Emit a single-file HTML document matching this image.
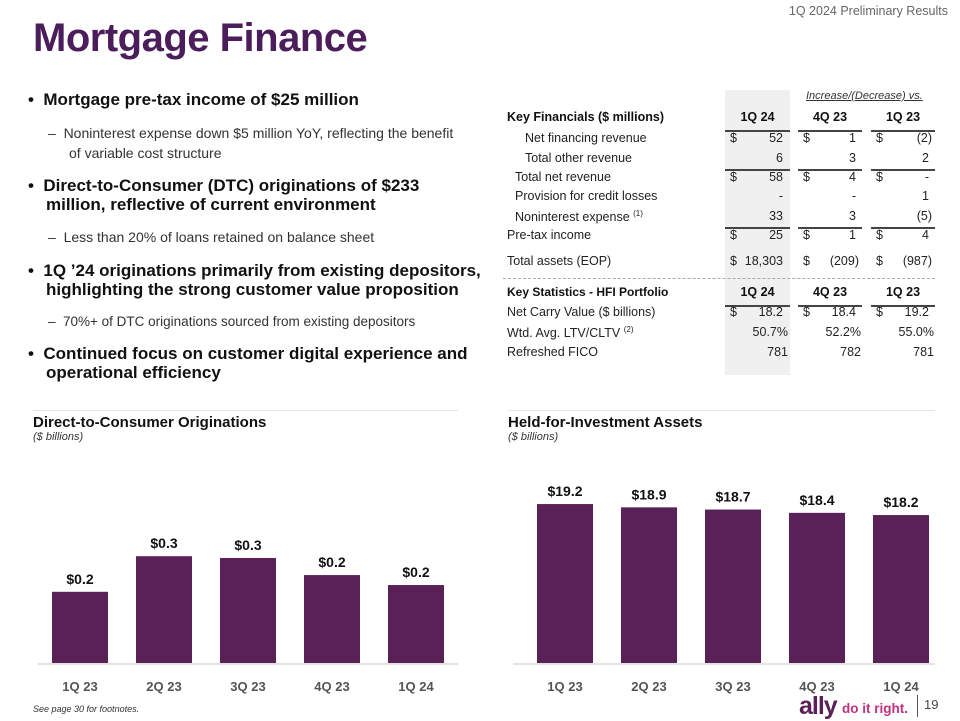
<!DOCTYPE html>
<html><head><meta charset="utf-8"><style>
body{margin:0;width:960px;height:720px;position:relative;background:#fff;font-family:"Liberation Sans",sans-serif;overflow:hidden;color:#222}
.a{position:absolute;white-space:nowrap}
.b{font-weight:bold;font-size:17px;color:#111}
.s{font-size:14px;color:#333}
.t{font-size:12.5px;color:#222}
.tb{font-size:12.5px;font-weight:bold;color:#111}
.r{text-align:right}
.ul{position:absolute;height:2px;background:#444}
</style></head><body>
<div class="a" style="right:12px;top:4px;font-size:12.5px;color:#666">1Q 2024 Preliminary Results</div>
<div class="a" style="left:33px;top:16px;font-size:40px;font-weight:bold;color:#4b1d5a;letter-spacing:-0.5px">Mortgage Finance</div>

<div>
<div class="a b" style="left:28px;top:90px">•&nbsp;&nbsp;Mortgage pre-tax income of $25 million</div>
<div class="a s" style="left:48px;top:125px">–&nbsp;&nbsp;Noninterest expense down $5 million YoY, reflecting the benefit</div>
<div class="a s" style="left:69px;top:145px">of variable cost structure</div>
<div class="a b" style="left:28px;top:176px">•&nbsp;&nbsp;Direct-to-Consumer (DTC) originations of $233</div>
<div class="a b" style="left:46px;top:195px">million, reflective of current environment</div>
<div class="a s" style="left:48px;top:229px">–&nbsp;&nbsp;Less than 20% of loans retained on balance sheet</div>
<div class="a b" style="left:28px;top:261px">•&nbsp;&nbsp;1Q ’24 originations primarily from existing depositors,</div>
<div class="a b" style="left:46px;top:280px">highlighting the strong customer value proposition</div>
<div class="a s" style="left:48px;top:314px;font-size:13.5px">–&nbsp;&nbsp;70%+ of DTC originations sourced from existing depositors</div>
<div class="a b" style="left:28px;top:344px">•&nbsp;&nbsp;Continued focus on customer digital experience and</div>
<div class="a b" style="left:46px;top:363px">operational efficiency</div>
</div>

<div>
<div class="a" style="left:725px;top:90px;width:65px;height:285px;background:#f0f0f0"></div>
<div class="a" style="left:806px;top:90px;font-size:11px;font-style:italic;text-decoration:underline;color:#333">Increase/(Decrease) vs.</div>
<div class="a tb" style="left:507px;top:110px">Key Financials ($ millions)</div>
<div class="a tb" style="left:725px;width:65px;top:110px;text-align:center">1Q 24</div>
<div class="a tb" style="left:798px;width:64px;top:110px;text-align:center">4Q 23</div>
<div class="a tb" style="left:871px;width:64px;top:110px;text-align:center">1Q 23</div>
<div class="ul" style="left:725px;width:65px;top:130px"></div><div class="ul" style="left:798px;width:64px;top:130px"></div><div class="ul" style="left:871px;width:64px;top:130px"></div>
<div class="ul" style="left:725px;width:65px;top:169px"></div><div class="ul" style="left:798px;width:64px;top:169px"></div><div class="ul" style="left:871px;width:64px;top:169px"></div>
<div class="ul" style="left:725px;width:65px;top:227px"></div><div class="ul" style="left:798px;width:64px;top:227px"></div><div class="ul" style="left:871px;width:64px;top:227px"></div>
<div class="ul" style="left:725px;width:65px;top:305px"></div><div class="ul" style="left:798px;width:64px;top:305px"></div><div class="ul" style="left:871px;width:64px;top:305px"></div>
<div class="a" style="left:503px;top:278px;width:432px;border-top:1px dashed #aaa"></div>

<div class="a t" style="left:525px;top:131px">Net financing revenue</div>
<div class="a t" style="left:730px;top:131px">$</div><div class="a t r" style="left:740px;width:43px;top:131px">52</div>
<div class="a t" style="left:803px;top:131px">$</div><div class="a t r" style="left:813px;width:43px;top:131px">1</div>
<div class="a t" style="left:876px;top:131px">$</div><div class="a t r" style="left:886px;width:46px;top:131px">(2)</div>

<div class="a t" style="left:525px;top:151px">Total other revenue</div>
<div class="a t r" style="left:740px;width:43px;top:151px">6</div><div class="a t r" style="left:813px;width:43px;top:151px">3</div><div class="a t r" style="left:886px;width:43px;top:151px">2</div>

<div class="a t" style="left:515px;top:170px">Total net revenue</div>
<div class="a t" style="left:730px;top:170px">$</div><div class="a t r" style="left:740px;width:43px;top:170px">58</div>
<div class="a t" style="left:803px;top:170px">$</div><div class="a t r" style="left:813px;width:43px;top:170px">4</div>
<div class="a t" style="left:876px;top:170px">$</div><div class="a t r" style="left:886px;width:43px;top:170px">-</div>

<div class="a t" style="left:515px;top:189px">Provision for credit losses</div>
<div class="a t r" style="left:740px;width:43px;top:189px">-</div><div class="a t r" style="left:813px;width:43px;top:189px">-</div><div class="a t r" style="left:886px;width:43px;top:189px">1</div>

<div class="a t" style="left:515px;top:209px">Noninterest expense <sup style="font-size:8px">(1)</sup></div>
<div class="a t r" style="left:740px;width:43px;top:209px">33</div><div class="a t r" style="left:813px;width:43px;top:209px">3</div><div class="a t r" style="left:886px;width:46px;top:209px">(5)</div>

<div class="a t" style="left:507px;top:228px">Pre-tax income</div>
<div class="a t" style="left:730px;top:228px">$</div><div class="a t r" style="left:740px;width:43px;top:228px">25</div>
<div class="a t" style="left:803px;top:228px">$</div><div class="a t r" style="left:813px;width:43px;top:228px">1</div>
<div class="a t" style="left:876px;top:228px">$</div><div class="a t r" style="left:886px;width:43px;top:228px">4</div>

<div class="a t" style="left:507px;top:254px">Total assets (EOP)</div>
<div class="a t" style="left:730px;top:254px">$</div><div class="a t r" style="left:740px;width:43px;top:254px">18,303</div>
<div class="a t" style="left:803px;top:254px">$</div><div class="a t r" style="left:813px;width:46px;top:254px">(209)</div>
<div class="a t" style="left:876px;top:254px">$</div><div class="a t r" style="left:886px;width:46px;top:254px">(987)</div>

<div class="a tb" style="left:507px;top:285px;font-size:12px">Key Statistics - HFI Portfolio</div>
<div class="a tb" style="left:725px;width:65px;top:285px;text-align:center">1Q 24</div>
<div class="a tb" style="left:798px;width:64px;top:285px;text-align:center">4Q 23</div>
<div class="a tb" style="left:871px;width:64px;top:285px;text-align:center">1Q 23</div>

<div class="a t" style="left:507px;top:305px">Net Carry Value ($ billions)</div>
<div class="a t" style="left:730px;top:305px">$</div><div class="a t r" style="left:740px;width:43px;top:305px">18.2</div>
<div class="a t" style="left:803px;top:305px">$</div><div class="a t r" style="left:813px;width:43px;top:305px">18.4</div>
<div class="a t" style="left:876px;top:305px">$</div><div class="a t r" style="left:886px;width:43px;top:305px">19.2</div>

<div class="a t" style="left:507px;top:325px">Wtd. Avg. LTV/CLTV <sup style="font-size:8px">(2)</sup></div>
<div class="a t r" style="left:740px;width:48px;top:325px">50.7%</div><div class="a t r" style="left:813px;width:48px;top:325px">52.2%</div><div class="a t r" style="left:886px;width:48px;top:325px">55.0%</div>
<div class="a t" style="left:507px;top:345px">Refreshed FICO</div>
<div class="a t r" style="left:740px;width:48px;top:345px">781</div><div class="a t r" style="left:813px;width:48px;top:345px">782</div><div class="a t r" style="left:886px;width:48px;top:345px">781</div>
</div>

<div class="a" style="left:33px;top:410px;width:425px;border-top:1px solid #e6e6e6"></div>
<div class="a" style="left:508px;top:410px;width:427px;border-top:1px solid #e6e6e6"></div>
<div class="a" style="left:33px;top:414px;font-size:15px;font-weight:bold;color:#111">Direct-to-Consumer Originations</div>
<div class="a" style="left:33px;top:431px;font-size:11px;font-style:italic;color:#333">($ billions)</div>
<div class="a" style="left:508px;top:414px;font-size:15px;font-weight:bold;color:#111">Held-for-Investment Assets</div>
<div class="a" style="left:508px;top:431px;font-size:11px;font-style:italic;color:#333">($ billions)</div>

<svg class="a" style="left:0;top:0" width="960" height="720" id="charts"></svg>

<div class="a" style="left:33px;top:704px;font-size:9px;font-style:italic;color:#333">See page 30 for footnotes.</div>
<div class="a" style="left:799px;top:692px;font-size:25px;font-weight:bold;color:#5a2159;letter-spacing:-1px">ally</div>
<div class="a" style="left:842px;top:701px;font-size:13.5px;font-weight:bold;color:#c1307f">do it right.</div>
<div class="a" style="left:917px;top:695px;width:1px;height:22px;background:#555"></div>
<div class="a" style="left:924px;top:697px;font-size:13px;color:#444">19</div>

<script>
const categories = ["1Q 23","2Q 23","3Q 23","4Q 23","1Q 24"];
const dtcValues = [0.20, 0.30, 0.295, 0.247, 0.219];
const hfiValues = [19.2, 18.9, 18.7, 18.4, 18.2];
const svg = document.getElementById('charts');
const NS = 'http://www.w3.org/2000/svg';
function mk(tag, attrs){const e=document.createElementNS(NS,tag);for(const k in attrs)e.setAttribute(k,attrs[k]);svg.appendChild(e);return e;}
function drawChart(vals, x0, axisL, axisR, scale, vmin, prefix, fmt){
  const base = 663, pitch = 84, bw = 56;
  const ax = mk('line',{x1:axisL,x2:axisR,y1:base+1,y2:base+1,stroke:'#e3e3e3','stroke-width':2});
  
  
  vals.forEach((v,i)=>{
    const h = (v-vmin)*scale, x = x0 + i*pitch;
    const r = mk('rect',{x:x,y:base-h,width:bw,height:h,fill:'#5a2159'});
    
    
    const t = mk('text',{x:x+bw/2,y:base-h-8,'text-anchor':'middle','font-size':14,'font-weight':'bold',fill:'#111','font-family':'Liberation Sans, sans-serif'});
    t.textContent = '$'+fmt(v);
    
    
    const c = mk('text',{x:x+bw/2,y:691,'text-anchor':'middle','font-size':13,'font-weight':'bold',fill:'#555','font-family':'Liberation Sans, sans-serif'});
    c.textContent = categories[i];
    
    
  });
}
drawChart(dtcValues, 52, 38, 458, 356, 0, 'dtc', v=>v.toFixed(1));
drawChart(hfiValues, 537, 513, 935, 11, 4.75, 'hfi', v=>v.toFixed(1));
</script>
</body></html>
